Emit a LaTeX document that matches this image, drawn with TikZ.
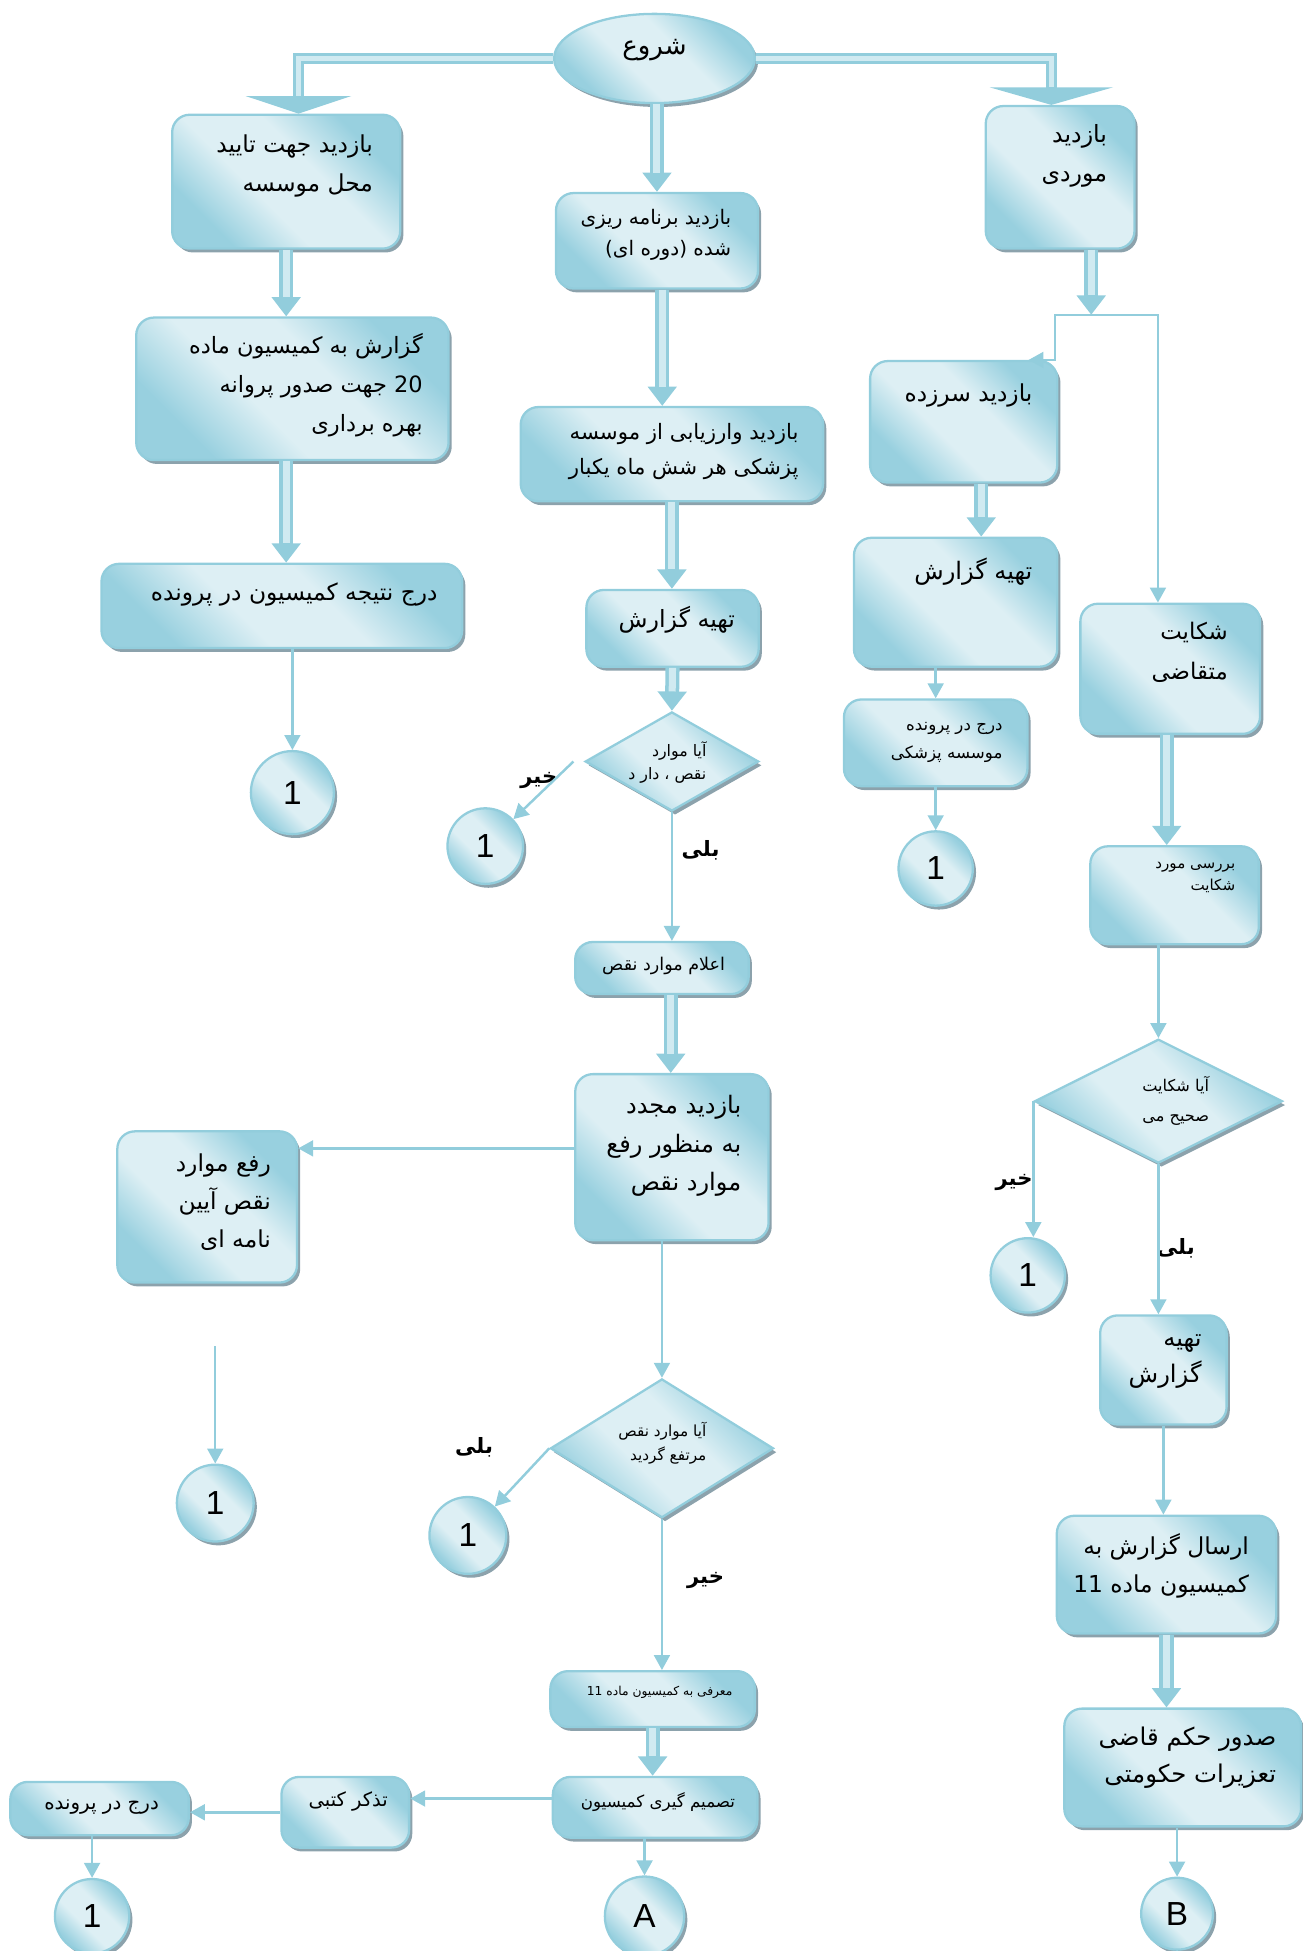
\documentclass[tikz,border=0pt]{standalone}
\usepackage{fontspec}
\setmainfont{Liberation Sans}
\newfontfamily\arabicfont[Script=Arabic]{DejaVu Sans}
\TeXXeTstate=1
\usetikzlibrary{arrows.meta,shapes.geometric,shadows,positioning}

\definecolor{lineblue}{RGB}{146,205,220}
\definecolor{boxlight}{RGB}{221,239,244}
\definecolor{boxdark}{RGB}{152,208,223}
\definecolor{shadowgray}{RGB}{140,162,172}
\definecolor{fatfill}{RGB}{208,234,241}

\pgfdeclareverticalshading{boxshade}{100bp}{color(0bp)=(boxdark); color(27bp)=(boxdark);
  color(42bp)=(boxlight); color(58bp)=(boxlight); color(73bp)=(boxdark); color(100bp)=(boxdark)}

\newcommand{\un}{0.7058pt}
\newcommand{\fa}[1]{\beginR #1\endR}

\tikzset{
  shaded/.style={draw=lineblue, line width=1.3pt, shade, shading=boxshade, shading angle=-45,
    drop shadow={shadow xshift=1.8pt, shadow yshift=-2.2pt, fill=shadowgray, opacity=1}},
  stepbox/.style={shaded, rectangle, rounded corners=10pt, inner sep=0pt},
  ovalbox/.style={shaded, ellipse, inner sep=0pt},
  decbox/.style={shaded, diamond, inner sep=0pt},
  joinmark/.style={shaded, circle, inner sep=0pt, font=\fontsize{19}{22}\selectfont},
  txt/.style 2 args={inner sep=0pt, align=right, font=\fontsize{#1}{#2}\selectfont\arabicfont},
  lbl/.style={inner sep=0pt, font=\fontsize{12}{14}\selectfont\arabicfont\bfseries},
  thinarrow/.style={draw=lineblue, line width=1.4pt, -{Triangle[length=8.5pt,width=9pt]}},
  fatarrow/.style={draw=lineblue, line width=8pt, -{Triangle[length=11pt,width=16pt]},
    postaction={draw=fatfill, line width=4pt, -, shorten >=11pt}},
  widearrow/.style={draw=lineblue, line width=6pt,
    postaction={draw=fatfill, line width=2.6pt, -, shorten >=10pt}}
}

\begin{document}
\begin{tikzpicture}[x=0.0249cm, y=-0.0249cm]
\useasboundingbox (0,0) rectangle (1047,1568);

\node[ovalbox, minimum width=162*\un, minimum height=72*\un] (start) at (526,47) {};
\node[txt={14.8}{20}] (startt) at (526,40) {\fa{شروع}};

\node[stepbox, minimum width=184*\un, minimum height=108*\un] (L1) at (230,146) {};
\node[stepbox, minimum width=163*\un, minimum height=77*\un] (C1) at (528,193.5) {};
\node[stepbox, minimum width=120*\un, minimum height=115*\un] (R1) at (852,142.5) {};
\node[stepbox, minimum width=252*\un, minimum height=115*\un] (L2) at (235,312.5) {};
\node[stepbox, minimum width=244*\un, minimum height=76*\un] (C2) at (540,365) {};
\node[stepbox, minimum width=291*\un, minimum height=68*\un] (L3) at (226.5,487) {};
\node[stepbox, minimum width=139*\un, minimum height=62*\un] (C3) at (540.5,505) {};
\node[stepbox, minimum width=140*\un, minimum height=42*\un] (C4) at (532,778) {};
\node[stepbox, minimum width=156*\un, minimum height=134*\un] (C5) at (540,930) {};
\node[stepbox, minimum width=145*\un, minimum height=122*\un] (L4) at (166.5,970) {};
\node[stepbox, minimum width=165*\un, minimum height=45*\un] (C6) at (524.5,1365.5) {};
\node[stepbox, minimum width=165*\un, minimum height=49*\un] (C7) at (526.5,1452.5) {};
\node[stepbox, minimum width=103*\un, minimum height=57*\un] (T) at (277.5,1456.5) {};
\node[stepbox, minimum width=144*\un, minimum height=43*\un] (P) at (80,1453.5) {};
\node[stepbox, minimum width=151*\un, minimum height=98*\un] (R2) at (774.5,339) {};
\node[stepbox, minimum width=164*\un, minimum height=104*\un] (R3) at (768,484) {};
\node[stepbox, minimum width=148*\un, minimum height=70*\un] (R4) at (752,597) {};
\node[stepbox, minimum width=145*\un, minimum height=105*\un] (R5) at (940.5,537.5) {};
\node[stepbox, minimum width=136*\un, minimum height=79*\un] (R6) at (944,719.5) {};
\node[stepbox, minimum width=102*\un, minimum height=88*\un] (R7) at (935,1101) {};
\node[stepbox, minimum width=177*\un, minimum height=95*\un] (R8) at (937.5,1265.5) {};
\node[stepbox, minimum width=191*\un, minimum height=95*\un] (R9) at (950.5,1420.5) {};

\node[decbox, minimum width=140*\un, minimum height=80*\un] (D1) at (540,612) {};
\node[decbox, minimum width=180*\un, minimum height=112*\un] (D2) at (532,1164) {};
\node[decbox, minimum width=200*\un, minimum height=100*\un] (DR) at (931,885) {};

\node[joinmark, minimum size=67*\un] (c1) at (235,637) {1};
\node[joinmark, minimum size=61*\un] (c2) at (390,680) {1};
\node[joinmark, minimum size=60*\un] (c3) at (752,698) {1};
\node[joinmark, minimum size=62*\un] (c4) at (173,1208) {1};
\node[joinmark, minimum size=62*\un] (c5) at (376,1234) {1};
\node[joinmark, minimum size=60*\un] (c6) at (826,1025) {1};
\node[joinmark, minimum size=60*\un] (c7) at (74,1540) {1};
\node[joinmark, minimum size=64*\un] (cA) at (518,1540) {A};
\node[joinmark, minimum size=58*\un] (cB) at (946,1538) {B};

\node[txt={13.3}{22}, anchor=north east] (L1t) at (300,108) {\fa{بازدید جهت تایید}\\\fa{محل موسسه}};
\node[txt={11.4}{17.5}, anchor=north east] (C1t) at (588,168) {\fa{بازدید برنامه ریزی}\\\fa{شده (دوره ای)}};
\node[txt={13.5}{22}, anchor=north east] (R1t) at (890,100) {\fa{بازدید}\\\fa{موردی}};
\node[txt={12.8}{22}, anchor=north east] (L2t) at (340,268) {\fa{گزارش به کمیسیون ماده}\\\fa{20 جهت صدور پروانه}\\\fa{بهره برداری}};
\node[txt={12.1}{20}, anchor=north east] (C2t) at (642,340) {\fa{بازدید وارزیابی از موسسه}\\\fa{پزشکی هر شش ماه یکبار}};
\node[txt={13.3}{20}, anchor=north east] (L3t) at (352,468) {\fa{درج نتیجه کمیسیون در پرونده}};
\node[txt={13.5}{20}, anchor=north east] (C3t) at (591,487) {\fa{تهیه گزارش}};
\node[txt={9}{13}, anchor=north east] (D1t) at (568,596) {\fa{آیا موارد}\\\fa{نقص ، دار د}};
\node[txt={10}{14}, anchor=north east] (C4t) at (583,769) {\fa{اعلام موارد نقص}};
\node[txt={13.7}{22}, anchor=north east] (C5t) at (596,880) {\fa{بازدید مجدد}\\\fa{به منظور رفع}\\\fa{موارد نقص}};
\node[txt={13.3}{21.5}, anchor=north east] (L4t) at (218,927) {\fa{رفع موارد}\\\fa{نقص آیین}\\\fa{نامه ای}};
\node[txt={8.7}{13.5}, anchor=north east] (D2t) at (568,1143) {\fa{آیا موارد نقص}\\\fa{مرتفع گردید}};
\node[txt={7}{10}, anchor=north east] (C6t) at (589,1355) {\fa{معرفی به کمیسیون ماده 11}};
\node[txt={9.5}{14}, anchor=north east] (C7t) at (591,1440) {\fa{تصمیم گیری کمیسیون}};
\node[txt={11.1}{16}, anchor=north east] (Tt) at (312,1440) {\fa{تذکر کتبی}};
\node[txt={11.3}{15}, anchor=north east] (Pt) at (128,1446) {\fa{درج در پرونده}};
\node[txt={13.3}{20}, anchor=north east] (R2t) at (830,308) {\fa{بازدید سرزده}};
\node[txt={13.7}{20}, anchor=north east] (R3t) at (830,448) {\fa{تهیه گزارش}};
\node[txt={9.5}{16}, anchor=north east] (R4t) at (806,580) {\fa{درج در پرونده}\\\fa{موسسه پزشکی}};
\node[txt={13}{22.5}, anchor=north east] (R5t) at (987,500) {\fa{شکایت}\\\fa{متقاضی}};
\node[txt={8.6}{12.5}, anchor=north east] (R6t) at (993,693) {\fa{بررسی مورد}\\\fa{شکایت}};
\node[txt={9.2}{17}, anchor=north east] (DRt) at (972,865) {\fa{آیا شکایت}\\\fa{صحیح می}};
\node[txt={13.8}{20.5}, anchor=north east] (R7t) at (966,1072) {\fa{تهیه}\\\fa{گزارش}};
\node[txt={13.3}{22}, anchor=north east] (R8t) at (1004,1232) {\fa{ارسال گزارش به}\\\fa{کمیسیون ماده 11}};
\node[txt={13.9}{21}, anchor=north east] (R9t) at (1026,1388) {\fa{صدور حکم قاضی}\\\fa{تعزیرات حکومتی}};

\node[lbl] (no1) at (433,627) {\fa{خیر}};
\node[lbl] (yes1) at (563,683) {\fa{بلی}};
\node[lbl] (yes2) at (381,1163) {\fa{بلی}};
\node[lbl] (no2) at (567,1270) {\fa{خیر}};
\node[lbl] (no3) at (815,950) {\fa{خیر}};
\node[lbl] (yes3) at (945,1003) {\fa{بلی}};

\coordinate (split) at (877,253);
\coordinate (c4in) at (173,1082);

\draw[widearrow, -{Triangle[length=10pt,width=60pt]}] (start.west) -| ([xshift=7pt]L1.north);
\draw[widearrow, -{Triangle[length=10pt,width=70pt]}] (start.east) -| ([xshift=-5pt]R1.north);
\draw[fatarrow] (start.south -| C1.north) -- (C1.north);
\draw[fatarrow] (L1.south) -- (L1.south |- L2.north);
\draw[fatarrow] (L2.south -| L1.south) -- (L3.north -| L1.south);
\draw[fatarrow] ([xshift=3pt]C1.south) -- ([xshift=3pt]C1.south |- C2.north);
\draw[fatarrow] (C2.south) -- (C2.south |- C3.north);
\draw[fatarrow] (C3.south) -- (D1.north);
\draw[fatarrow] ([xshift=5pt]C4.south) -- ([xshift=5pt]C4.south |- C5.north);
\draw[fatarrow] (C6.south) -- (C6.south |- C7.north);
\draw[fatarrow] (R1.south -| split) -- (split);
\draw[fatarrow] ([xshift=10pt]R2.south) -- ([xshift=10pt]R2.south |- R3.north);
\draw[fatarrow] ([xshift=-2pt]R5.south) -- ([xshift=-2pt]R5.south |- R6.north);
\draw[fatarrow] (R8.south) -- (R8.south |- R9.north);

\draw[thinarrow] (L3.south -| c1.north) -- (c1.north);
\draw[thinarrow] ([xshift=-6pt]D1.west) -- (c2);
\draw[thinarrow] (D1.south) -- (D1.south |- C4.north);
\draw[thinarrow] ([yshift=5pt]C5.west) -- ([yshift=5pt]C5.west -| L4.east);
\draw[thinarrow] (c4in) -- (c4);
\draw[thinarrow] (C5.south -| D2.north) -- (D2.north);
\draw[thinarrow] (D2.west) -- (c5);
\draw[thinarrow] (D2.south) -- (D2.south |- C6.north);
\draw[thinarrow] ([yshift=5pt]C7.west) -- ([yshift=5pt]C7.west -| T.east);
\draw[thinarrow] (T.west) -- (T.west -| P.east);
\draw[thinarrow] (P.south -| c7.north) -- (c7.north);
\draw[thinarrow] (C7.south -| cA.north) -- (cA.north);
\draw[thinarrow] (split) -- ++(-29,0) |- ([xshift=-17pt]R2.north east);
\draw[thinarrow] (split) -| ([xshift=-7pt]R5.north);
\draw[thinarrow] (R3.south -| R4.north) -- (R4.north);
\draw[thinarrow] (R4.south -| c3.north) -- (c3.north);
\draw[thinarrow] (R6.south -| DR.north) -- (DR.north);
\draw[thinarrow] (DR.west) -- (DR.west |- c6.north);
\draw[thinarrow] (DR.south) -- (DR.south |- R7.north);
\draw[thinarrow] (R7.south) -- (R7.south |- R8.north);
\draw[thinarrow] (R9.south -| cB.north) -- (cB.north);
\end{tikzpicture}
\end{document}
